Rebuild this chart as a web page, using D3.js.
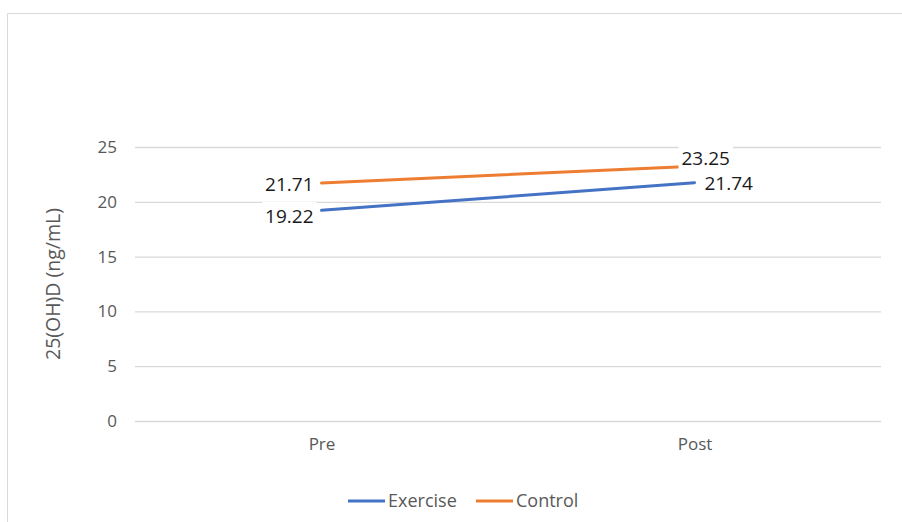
<!DOCTYPE html>
<html>
<head>
<meta charset="utf-8">
<script src="https://cdn.jsdelivr.net/npm/d3@7"></script>
<style>
  html, body { margin: 0; padding: 0; background: #fff; }
  svg { display: block; font-family: "Open Sans", "Liberation Sans", sans-serif; }
</style>
</head>
<body>
<svg id="chart" width="902" height="522"></svg>
<script>
// Serum 25(OH)D before and after the intervention, by group
const timepoints = ["Pre", "Post"];
const seriesNames = ["Exercise", "Control"];
const exerciseValues = [19.22, 21.74];
const controlValues = [21.71, 23.25];
const yTicks = [0, 5, 10, 15, 20, 25];
const yTitle = "25(OH)D (ng/mL)";

const colors = { Exercise: "#4472C4", Control: "#ED7D31" };

const svg = d3.select("#chart");
const W = 902, H = 522;
const plot = { left: 135, right: 881, top: 147, bottom: 421 };

// chart frame (only top and left edges visible)
svg.append("path")
  .attr("d", `M7.5,${H} V13.5 H${W}`)
  .attr("fill", "none")
  .attr("stroke", "#d9d9d9")
  .attr("stroke-width", 1);

const x = d3.scalePoint().domain(timepoints).range([plot.left, plot.right]).padding(0.5);
const y = d3.scaleLinear().domain([0, 25]).range([plot.bottom, plot.top]);

// horizontal gridlines + y tick labels
const yAxis = d3.axisLeft(y).tickValues(yTicks).tickSize(-(plot.right - plot.left)).tickPadding(18);
const gy = svg.append("g").attr("transform", `translate(${plot.left},0)`).call(yAxis);
gy.select(".domain").remove();
gy.selectAll(".tick line").attr("stroke", "#d9d9d9").attr("stroke-width", 1.3);
gy.selectAll(".tick text").attr("fill", "#595959").style("font-size", "17px")
  .style("font-family", "'Open Sans', sans-serif");

// category labels
const xAxis = d3.axisBottom(x).tickSize(0).tickPadding(17);
const gx = svg.append("g").attr("transform", `translate(0,${plot.bottom})`).call(xAxis);
gx.select(".domain").remove();
gx.selectAll(".tick text").attr("fill", "#595959").style("font-size", "17px")
  .style("font-family", "'Open Sans', sans-serif");

// y axis title
svg.append("text")
  .attr("transform", `translate(53,${(plot.top + plot.bottom) / 2}) rotate(-90)`)
  .attr("text-anchor", "middle")
  .attr("dy", "0.35em")
  .attr("fill", "#595959")
  .style("font-size", "19.5px")
  .text(yTitle);

const series = [
  { name: "Exercise", values: exerciseValues },
  { name: "Control", values: controlValues }
];

const line = d3.line().x((d, i) => x(timepoints[i])).y(d => y(d));

svg.append("g").selectAll("path").data(series).join("path")
  .attr("d", s => line(s.values))
  .attr("fill", "none")
  .attr("stroke", s => colors[s.name])
  .attr("stroke-width", 3)
  .attr("stroke-linecap", "round");

// data labels: placement per series/point [dx, dy, anchor]
const labelPlacement = {
  Exercise: [[-8, 6, "end"], [10, 1, "start"]],
  Control: [[-8, 1, "end"], [-13, -8, "start"]]
};

const labels = svg.append("g");
series.forEach(s => {
  s.values.forEach((v, i) => {
    const [dx, dy, anchor] = labelPlacement[s.name][i];
    const g = labels.append("g")
      .attr("transform", `translate(${x(timepoints[i]) + dx},${y(v) + dy})`);
    const t = g.append("text")
      .attr("text-anchor", anchor)
      .attr("dy", "0.35em")
      .attr("fill", "#1a1a1a")
      .style("font-size", "19px")
      .text(v.toFixed(2));
    const bb = t.node().getBBox();
    g.insert("rect", "text")
      .attr("x", bb.x - 3).attr("y", bb.y - 1)
      .attr("width", bb.width + 6).attr("height", bb.height + 2)
      .attr("fill", "#fff");
  });
});

// legend
const legend = svg.append("g").attr("transform", `translate(0,501)`);
const legendX = { Exercise: 348, Control: 476 };
seriesNames.forEach(name => {
  const g = legend.append("g").attr("transform", `translate(${legendX[name]},0)`);
  g.append("line").attr("x1", 0).attr("x2", 37).attr("y1", 0).attr("y2", 0)
    .attr("stroke", colors[name]).attr("stroke-width", 3);
  g.append("text").attr("x", 40).attr("dy", "0.35em")
    .attr("fill", "#595959").style("font-size", "18px").text(name);
});
</script>
</body>
</html>
